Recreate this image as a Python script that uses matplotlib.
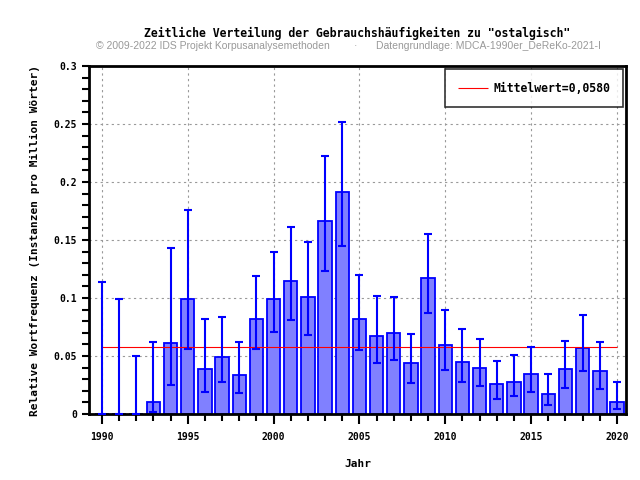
import matplotlib
matplotlib.use("Agg")
import matplotlib.pyplot as plt
from matplotlib.ticker import MultipleLocator, FixedLocator
import numpy as np

years = list(range(1990, 2021))
freq = [0.0, 0.0, 0.0, 0.0105, 0.061, 0.0994, 0.039, 0.0489, 0.0333, 0.0822,
        0.0994, 0.115, 0.1006, 0.166, 0.191, 0.0816, 0.067, 0.0695, 0.0437, 0.117,
        0.0592, 0.045, 0.0394, 0.0256, 0.0279, 0.0342, 0.017, 0.0385, 0.0566, 0.0374,
        0.0101]
err_low = [0.0, 0.0, 0.0, 0.002, 0.0253, 0.0563, 0.0193, 0.0279, 0.0184, 0.0563,
           0.071, 0.081, 0.068, 0.1236, 0.145, 0.0555, 0.0443, 0.0468, 0.027, 0.0874,
           0.038, 0.0276, 0.024, 0.013, 0.0155, 0.0193, 0.008, 0.0227, 0.0374, 0.0216,
           0.004]
err_high = [0.114, 0.0994, 0.0497, 0.0624, 0.1434, 0.176, 0.0822, 0.0839, 0.0624, 0.119,
            0.140, 0.161, 0.148, 0.222, 0.252, 0.120, 0.102, 0.1009, 0.069, 0.1555,
            0.090, 0.0736, 0.0644, 0.046, 0.0506, 0.058, 0.0348, 0.063, 0.0856, 0.0624,
            0.0279]
mean_value = 0.0580
y_ticks = [0, 0.05, 0.1, 0.15, 0.2, 0.25, 0.3]
y_tick_labels = ["0", "0.05", "0.1", "0.15", "0.2", "0.25", "0.3"]

mono = "DejaVu Sans Mono"
blue = "#0000ff"

fig = plt.figure(figsize=(6.4, 4.8), dpi=100)
ax = fig.add_axes([0.139, 0.1375, 0.839, 0.725])

yrs = np.array(years)
vals = np.array(freq)
lo = vals - np.array(err_low)
hi = np.array(err_high) - vals

ax.bar(yrs, vals, width=0.78, color="#8080ff", edgecolor=blue, linewidth=1.3, zorder=2)
ax.errorbar(yrs, vals, yerr=[lo, hi], fmt="none", ecolor=blue, elinewidth=1.5,
            capsize=3, capthick=1.5, zorder=3)
ax.hlines(mean_value, years[0], years[-1], color="red", linewidth=0.8, zorder=2.5,
          label="Mittelwert=0,0580")

ax.set_xlim(1989.25, 2020.52)
ax.set_ylim(0, 0.3)
ax.xaxis.set_major_locator(MultipleLocator(5))
ax.xaxis.set_minor_locator(MultipleLocator(1))
ax.yaxis.set_major_locator(FixedLocator(y_ticks))
ax.yaxis.set_minor_locator(MultipleLocator(0.01))
ax.set_yticklabels(y_tick_labels)

ax.grid(which="major", color="0.6", linestyle=(0, (2, 3)), linewidth=0.8, zorder=0)
ax.set_axisbelow(True)
for s in ax.spines.values():
    s.set_linewidth(2)
ax.tick_params(which="major", direction="out", length=7, width=1.5, labelsize=7)
ax.tick_params(which="minor", direction="out", length=5, width=1.5)
ax.tick_params(axis="y", which="major", length=5)
ax.tick_params(axis="x", which="major", pad=6)
for lab in ax.get_xticklabels() + ax.get_yticklabels():
    lab.set_family(mono)
    lab.set_weight("bold")

ax.set_xlabel("Jahr", family=mono, weight="bold", fontsize=8, labelpad=12)
ax.set_ylabel("Relative Wortfrequenz (Instanzen pro Million Wörter)", family=mono,
              weight="bold", fontsize=8, labelpad=10)

leg = ax.legend(loc="upper right", prop={"family": mono, "weight": "bold", "size": 8.3},
                frameon=True, fancybox=False, edgecolor="black", borderpad=1.1,
                handlelength=2.6, handletextpad=0.5, borderaxespad=0.25)
leg.get_frame().set_linewidth(1.2)

fig.text(0.5585, 0.931, 'Zeitliche Verteilung der Gebrauchshäufigkeiten zu "ostalgisch"',
         ha="center", va="center", family=mono, weight="bold", fontsize=8.3)
fig.text(0.15, 0.904, "© 2009-2022 IDS Projekt Korpusanalysemethoden", ha="left",
         va="center", family="Liberation Sans", fontsize=7.5, color="0.6")
fig.text(0.556, 0.904, "·", ha="center", va="center", family="Liberation Sans",
         fontsize=7.5, color="0.6")
fig.text(0.588, 0.904, "Datengrundlage: MDCA-1990er_DeReKo-2021-I", ha="left",
         va="center", family="Liberation Sans", fontsize=7.5, color="0.6")

fig.savefig("out.png", dpi=100)
